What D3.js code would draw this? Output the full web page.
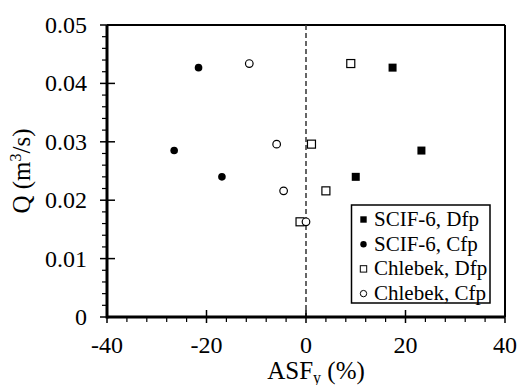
<!DOCTYPE html>
<html><head><meta charset="utf-8">
<script src="https://cdn.jsdelivr.net/npm/d3@7"></script>
<style>html,body{margin:0;padding:0;background:#fff;}</style>
</head><body>
<svg id="c" width="519" height="385"></svg>
<script>
// Data
const seriesNames = ["SCIF-6, Dfp", "SCIF-6, Cfp", "Chlebek, Dfp", "Chlebek, Cfp"];
const scifDfpX = [17.4, 23.2, 10.0];
const scifDfpY = [0.0427, 0.0285, 0.0240];
const scifCfpX = [-21.6, -26.5, -16.9];
const scifCfpY = [0.0427, 0.0285, 0.0240];
const chlDfpX = [9.0, 1.1, 4.0, -1.2];
const chlDfpY = [0.0434, 0.0296, 0.0216, 0.0163];
const chlCfpX = [-11.4, -5.9, -4.5, 0.0];
const chlCfpY = [0.0434, 0.0296, 0.0216, 0.0163];
const xTicks = [-40, -20, 0, 20, 40];
const yTicks = [0, 0.01, 0.02, 0.03, 0.04, 0.05];

const FONT = "'Liberation Serif', 'Times New Roman', 'DejaVu Serif', serif";
const svg = d3.select("#c");
const L = 107, T = 25, R = 505, B = 317;
const x = d3.scaleLinear().domain([-40, 40]).range([L, R]);
const y = d3.scaleLinear().domain([0, 0.05]).range([B, T]);

// box top/right
svg.append("line").attr("x1", L).attr("x2", R).attr("y1", T).attr("y2", T).attr("stroke", "#000").attr("stroke-width", 2);
svg.append("line").attr("x1", R).attr("x2", R).attr("y1", T).attr("y2", B).attr("stroke", "#000").attr("stroke-width", 2);

// dashed zero line
svg.append("line").attr("x1", x(0)).attr("x2", x(0)).attr("y1", T).attr("y2", B)
  .attr("stroke", "#333").attr("stroke-width", 1.5).attr("stroke-dasharray", "5,3");

// x axis
const gx = svg.append("g").attr("transform", `translate(0,${B})`);
const xMinor = d3.range(-40, 40.01, 4).filter(v => !xTicks.includes(v));
gx.selectAll(".mn").data(xMinor).join("line").attr("x1", d => x(d)).attr("x2", d => x(d)).attr("y1", 0).attr("y2", 5).attr("stroke", "#000").attr("stroke-width", 1.2);
gx.selectAll(".mj").data(xTicks).join("line").attr("x1", d => x(d)).attr("x2", d => x(d)).attr("y1", -7).attr("y2", 6).attr("stroke", "#000").attr("stroke-width", 1.5);
gx.selectAll("text").data(xTicks).join("text").attr("x", d => x(d)).attr("y", 36).attr("text-anchor", "middle").attr("font-family", FONT).attr("font-size", 24).text(d => d);
gx.append("line").attr("x1", L).attr("x2", R).attr("y1", 0).attr("y2", 0).attr("stroke", "#000").attr("stroke-width", 3);

// y axis
const gy = svg.append("g").attr("transform", `translate(${L},0)`);
const yMinor = d3.range(0, 0.0501, 0.002).filter(v => !yTicks.some(t => Math.abs(t - v) < 1e-9));
gy.selectAll(".mn").data(yMinor).join("line").attr("x1", -5).attr("x2", 0).attr("y1", d => y(d)).attr("y2", d => y(d)).attr("stroke", "#000").attr("stroke-width", 1.2);
gy.selectAll(".mj").data(yTicks).join("line").attr("x1", -7).attr("x2", 8).attr("y1", d => y(d)).attr("y2", d => y(d)).attr("stroke", "#000").attr("stroke-width", 1.5);
gy.selectAll("text").data(yTicks).join("text").attr("x", -20).attr("y", d => y(d)).attr("dy", "0.33em").attr("text-anchor", "end").attr("font-family", FONT).attr("font-size", 24).text(d => d === 0 ? "0" : d.toFixed(2));
gy.append("line").attr("x1", 0).attr("x2", 0).attr("y1", T).attr("y2", B + 1.5).attr("stroke", "#000").attr("stroke-width", 3);

// axis titles
const xt = svg.append("text").attr("x", (L + R) / 2 + 10).attr("y", 379).attr("text-anchor", "middle").attr("font-family", FONT).attr("font-size", 25);
xt.append("tspan").text("ASF");
xt.append("tspan").attr("font-size", 16).attr("dy", 4).text("y");
xt.append("tspan").attr("dy", -4).text(" (%)");
const yt = svg.append("text").attr("transform", `translate(30,${(T + B) / 2}) rotate(-90)`).attr("text-anchor", "middle").attr("font-family", FONT).attr("font-size", 25);
yt.append("tspan").text("Q (m");
yt.append("tspan").attr("font-size", 16).attr("dy", -9).text("3");
yt.append("tspan").attr("dy", 9).text("/s)");

// markers
const sq = 8, rc = 3.8;
function squares(xs, ys, filled) {
  svg.append("g").selectAll("rect").data(xs.map((v, i) => [v, ys[i]])).join("rect")
    .attr("x", d => x(d[0]) - sq / 2).attr("y", d => y(d[1]) - sq / 2).attr("width", sq).attr("height", sq)
    .attr("fill", filled ? "#000" : "#fff").attr("stroke", "#000").attr("stroke-width", filled ? 0 : 1.2);
}
function circles(xs, ys, filled) {
  svg.append("g").selectAll("circle").data(xs.map((v, i) => [v, ys[i]])).join("circle")
    .attr("cx", d => x(d[0])).attr("cy", d => y(d[1])).attr("r", rc)
    .attr("fill", filled ? "#000" : "#fff").attr("stroke", "#000").attr("stroke-width", filled ? 0 : 1.2);
}
squares(scifDfpX, scifDfpY, true);
circles(scifCfpX, scifCfpY, true);
squares(chlDfpX, chlDfpY, false);
circles(chlCfpX, chlCfpY, false);

// legend
const lg = svg.append("g");
lg.append("rect").attr("x", 351.5).attr("y", 205).attr("width", 138.5).attr("height", 98).attr("fill", "#fff").attr("stroke", "#000").attr("stroke-width", 1.5);
const types = [["sq", true], ["ci", true], ["sq", false], ["ci", false]];
seriesNames.forEach((n, i) => {
  const by = 226 + i * 24.7;
  const cy = by - 6.5;
  const [t, f] = types[i];
  if (t === "sq") lg.append("rect").attr("x", 363.5 - 3.2).attr("y", cy - 3.2).attr("width", 6.4).attr("height", 6.4).attr("fill", f ? "#000" : "#fff").attr("stroke", "#000").attr("stroke-width", f ? 0 : 1);
  else lg.append("circle").attr("cx", 363.5).attr("cy", cy).attr("r", 3.2).attr("fill", f ? "#000" : "#fff").attr("stroke", "#000").attr("stroke-width", f ? 0 : 1);
  lg.append("text").attr("x", 374).attr("y", by).attr("font-family", FONT).attr("font-size", 21).text(n);
});
</script>
</body></html>
